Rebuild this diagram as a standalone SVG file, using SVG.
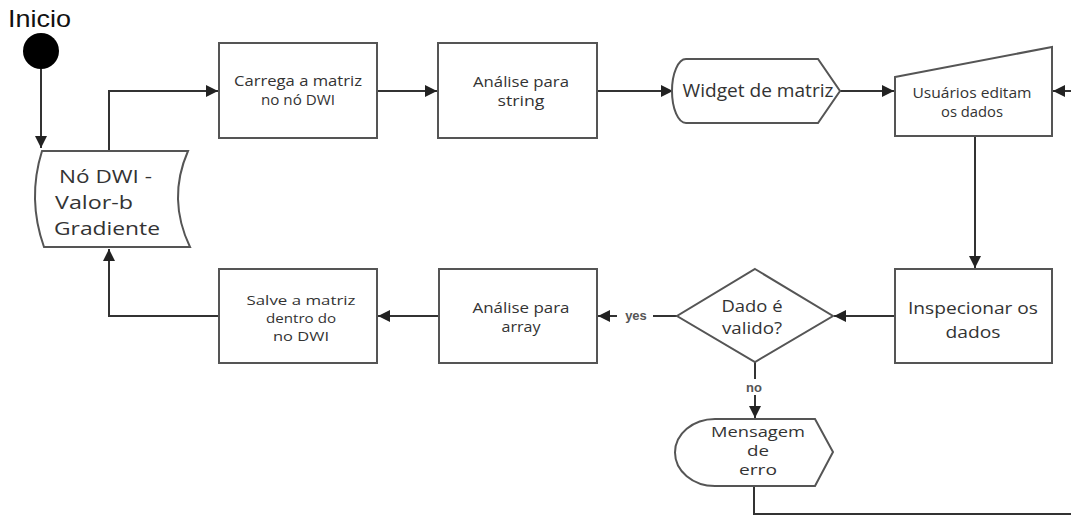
<svg xmlns="http://www.w3.org/2000/svg" width="1071" height="516" viewBox="0 0 1071 516">
<style>
.n{fill:#fff;stroke:#555;stroke-width:2}
.t{font-family:"Open Sans","Noto Sans",sans-serif;fill:#333;text-anchor:middle}
.s{text-anchor:start}
.c{fill:none;stroke:#333;stroke-width:2}
.lbl{font-family:"Liberation Sans",Arial,sans-serif;font-weight:bold;font-size:13px;fill:#555;text-anchor:middle}
</style>
<defs>
<marker id="ah" markerWidth="12" markerHeight="12" refX="10" refY="5" orient="auto" markerUnits="userSpaceOnUse" viewBox="0 0 10 10">
<path d="M0,0 L10,5 L0,10 Z" fill="#222"/>
</marker>
</defs>
<rect width="1071" height="516" fill="#fff"/>
<g id="connectors">
<path class="c" d="M41,69 V148" stroke="#000" marker-end="url(#ah)"/>
<path class="c" d="M109,150 V91 H218" marker-end="url(#ah)"/>
<path class="c" d="M377,91 H437" marker-end="url(#ah)"/>
<path class="c" d="M597,91 H673" marker-end="url(#ah)"/>
<path class="c" d="M840,91 H894" marker-end="url(#ah)"/>
<path class="c" d="M1075,91 H1053" marker-end="url(#ah)"/>
<path class="c" d="M975,136 V268" marker-end="url(#ah)"/>
<path class="c" d="M895,316 H834" marker-end="url(#ah)"/>
<path class="c" d="M677,316 H598" marker-end="url(#ah)"/>
<path class="c" d="M439,316 H378" marker-end="url(#ah)"/>
<path class="c" d="M219,316 H109 V249" marker-end="url(#ah)"/>
<path class="c" d="M755,362 V418" marker-end="url(#ah)"/>
<path class="c" d="M754,486 V514 H1075"/>
<rect x="617" y="307" width="36" height="17" fill="#fff"/>
<text class="lbl" x="636" y="320">yes</text>
<rect x="742" y="379" width="24" height="16" fill="#fff"/>
<text class="lbl" x="754" y="392">no</text>
</g>
<g id="inicio">
<text x="8" y="27" font-family="Liberation Sans,Arial,sans-serif" font-size="24" textLength="63" lengthAdjust="spacingAndGlyphs" fill="#111">Inicio</text>
<circle cx="41" cy="51" r="18" fill="#000"/>
</g>
<g id="no-dwi">
<path class="n" d="M42,151 L188,151 Q167,199 190,247 L44,247 Q27,199 42,151 Z"/>
<text class="t s" font-size="19"><tspan x="59" y="183" textLength="93" lengthAdjust="spacingAndGlyphs">Nó DWI -</tspan><tspan x="55" y="209" textLength="78" lengthAdjust="spacingAndGlyphs">Valor-b</tspan><tspan x="54" y="235" textLength="106" lengthAdjust="spacingAndGlyphs">Gradiente</tspan></text>
</g>
<g id="carrega">
<rect class="n" x="219" y="43" width="158" height="95"/>
<text class="t" font-size="14"><tspan x="298" y="86" textLength="128" lengthAdjust="spacingAndGlyphs">Carrega a matriz</tspan><tspan x="298" y="105" textLength="74" lengthAdjust="spacingAndGlyphs">no nó DWI</tspan></text>
</g>
<g id="analise-string">
<rect class="n" x="438" y="43" width="159" height="95"/>
<text class="t" font-size="14"><tspan x="521" y="87" textLength="96" lengthAdjust="spacingAndGlyphs">Análise para</tspan><tspan x="521" y="106" textLength="47" lengthAdjust="spacingAndGlyphs">string</tspan></text>
</g>
<g id="widget">
<path class="n" d="M686,59 L818,59 L840,91 L818,123 L686,123 A14,32 0 0 1 686,59 Z"/>
<text class="t" font-size="18" x="758" y="97" textLength="151" lengthAdjust="spacingAndGlyphs">Widget de matriz</text>
</g>
<g id="usuarios">
<path class="n" d="M895,77 L1052,47 L1052,136 L895,136 Z"/>
<text class="t" font-size="14"><tspan x="972" y="98" textLength="119" lengthAdjust="spacingAndGlyphs">Usuários editam</tspan><tspan x="972" y="117" textLength="62" lengthAdjust="spacingAndGlyphs">os dados</tspan></text>
</g>
<g id="inspecionar">
<rect class="n" x="895" y="269" width="157" height="94"/>
<text class="t" font-size="17"><tspan x="973" y="314" textLength="130" lengthAdjust="spacingAndGlyphs">Inspecionar os</tspan><tspan x="973" y="338" textLength="55" lengthAdjust="spacingAndGlyphs">dados</tspan></text>
</g>
<g id="dado-valido">
<path class="n" d="M755,269 L833,316 L755,362 L677,316 Z"/>
<text class="t" font-size="16"><tspan x="752" y="312" textLength="61" lengthAdjust="spacingAndGlyphs">Dado é</tspan><tspan x="752" y="334" textLength="60" lengthAdjust="spacingAndGlyphs">valido?</tspan></text>
</g>
<g id="analise-array">
<rect class="n" x="439" y="269" width="158" height="94"/>
<text class="t" font-size="14"><tspan x="521" y="313" textLength="97" lengthAdjust="spacingAndGlyphs">Análise para</tspan><tspan x="521" y="332" textLength="39" lengthAdjust="spacingAndGlyphs">array</tspan></text>
</g>
<g id="salve">
<rect class="n" x="219" y="269" width="158" height="94"/>
<text class="t" font-size="13"><tspan x="301" y="305" textLength="109" lengthAdjust="spacingAndGlyphs">Salve a matriz</tspan><tspan x="301" y="323" textLength="70" lengthAdjust="spacingAndGlyphs">dentro do</tspan><tspan x="301" y="341" textLength="56" lengthAdjust="spacingAndGlyphs">no DWI</tspan></text>
</g>
<g id="mensagem">
<path class="n" d="M715,419 L815,419 L833,452 L815,486 L715,486 A40,33.5 0 0 1 715,419 Z"/>
<text class="t" font-size="14"><tspan x="758" y="437" textLength="94" lengthAdjust="spacingAndGlyphs">Mensagem</tspan><tspan x="758" y="456" textLength="22" lengthAdjust="spacingAndGlyphs">de</tspan><tspan x="758" y="475" textLength="38" lengthAdjust="spacingAndGlyphs">erro</tspan></text>
</g>
</svg>
